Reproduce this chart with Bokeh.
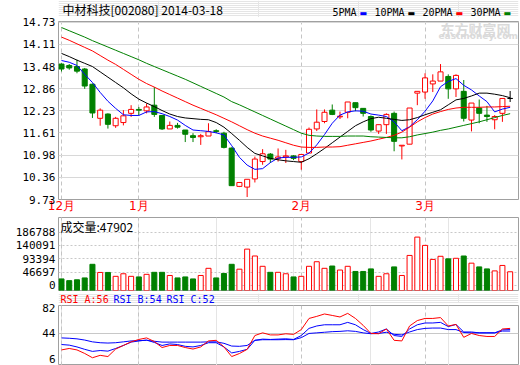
from bokeh.plotting import figure
from bokeh.layouts import column
from bokeh.models import (ColumnDataSource, FixedTicker, Label, Range1d, Grid,
                          PrintfTickFormatter)
from bokeh.embed import file_html
from bokeh.resources import INLINE

# ---------------- data ----------------
stock_title = "中材科技[002080] 2014-03-18"
month_ticks = [0, 10, 31, 47]
month_labels = ["12月", "1月", "2月", "3月"]
price_ticks = [9.73, 10.36, 10.98, 11.61, 12.23, 12.86, 13.48, 14.11, 14.73]
volume_ticks = [0, 46697, 93394, 140091, 186788]
rsi_ticks = [6, 44, 82]
ma_names = ["5PMA", "10PMA", "20PMA", "30PMA"]
rsi_header = ["RSI_A:56", "RSI_B:54", "RSI_C:52"]

opens = [13.55, 13.51, 13.48, 13.41, 12.98, 12.02, 12.14, 11.81, 11.90, 12.16,
         12.27, 12.23, 12.39, 12.10, 11.72, 11.82, 11.69, 11.53, 11.50, 11.52,
         11.67, 11.60, 11.18, 10.10, 10.08, 10.31, 10.80, 11.01, 10.89, 10.93,
         10.96, 10.80, 11.04, 11.72, 11.93, 12.25, 12.06, 12.19, 12.46, 12.30,
         12.07, 11.66, 11.84, 12.16, 11.24, 11.29, 12.73, 12.76, 12.99, 13.07,
         13.20, 12.85, 12.78, 11.97, 12.31, 12.11, 11.98, 12.16, 12.58]
highs = [13.57, 13.55, 13.67, 13.44, 13.00, 12.30, 12.16, 12.06, 12.25, 12.39,
         12.34, 12.44, 12.90, 12.10, 11.93, 11.89, 11.69, 11.60, 11.58, 11.88,
         11.71, 11.64, 11.20, 10.21, 10.30, 10.94, 11.15, 11.04, 11.17, 11.13,
         10.98, 11.00, 11.76, 12.27, 12.27, 12.41, 12.21, 12.48, 12.46, 12.30,
         12.10, 11.84, 12.16, 12.21, 11.26, 12.31, 12.78, 13.29, 13.26, 13.55,
         13.26, 13.26, 13.10, 12.45, 12.55, 12.37, 12.11, 12.58, 12.79]
lows = [13.34, 13.39, 13.29, 12.85, 12.03, 11.81, 11.73, 11.75, 11.82, 12.06,
        12.10, 12.16, 12.06, 11.69, 11.72, 11.73, 11.35, 11.35, 11.27, 11.52,
        11.60, 11.17, 10.12, 10.08, 9.80, 10.21, 10.71, 10.76, 10.80, 10.76,
        10.84, 10.57, 11.04, 11.66, 11.88, 12.11, 12.00, 12.02, 12.22, 12.07,
        11.64, 11.58, 11.58, 11.09, 10.86, 11.29, 12.39, 12.57, 12.76, 13.07,
        12.57, 12.62, 11.93, 11.65, 11.88, 11.92, 11.71, 11.92, 12.48]
closes = [13.41, 13.44, 13.35, 12.93, 12.17, 12.25, 11.85, 12.02, 12.09, 12.27,
          12.25, 12.34, 12.13, 11.72, 11.82, 11.77, 11.57, 11.48, 11.53, 11.64,
          11.65, 11.20, 10.12, 10.21, 10.30, 10.87, 11.02, 10.87, 10.93, 10.96,
          10.89, 11.00, 11.71, 11.91, 12.19, 12.13, 12.08, 12.48, 12.32, 12.16,
          11.69, 11.84, 12.13, 11.37, 11.26, 12.31, 12.78, 13.16, 13.07, 13.33,
          12.85, 13.23, 12.02, 12.45, 12.16, 12.07, 12.07, 12.58, 12.58]
volumes = [23000, 17000, 20000, 26500, 74000, 45600, 45600, 32000, 41000, 32000,
           30000, 39000, 46000, 46000, 35000, 26500, 30000, 23000, 35000, 60000,
           26500, 42000, 74000, 57000, 127000, 103000, 67000, 46000, 46000, 41000,
           30000, 32000, 67000, 83000, 60000, 68000, 54000, 67000, 49000, 49000,
           58000, 32000, 41000, 65000, 35000, 105000, 169000, 140000, 91000, 102000,
           93000, 95000, 103000, 78000, 65000, 58000, 51000, 70000, 47902]
ma5 = [13.65, 13.60, 13.51, 13.26, 13.03, 12.75, 12.50, 12.30, 12.12, 12.10,
       12.10, 12.20, 12.21, 12.15, 12.07, 11.97, 11.82, 11.69, 11.67, 11.65,
       11.61, 11.55, 11.25, 10.92, 10.70, 10.58, 10.60, 10.77, 10.90, 10.92,
       10.92, 10.93, 11.04, 11.27, 11.56, 11.88, 12.11, 12.20, 12.23, 12.22,
       12.14, 12.11, 12.07, 11.92, 11.67, 11.78, 11.98, 12.22, 12.51, 12.91,
       13.06, 13.14, 12.95, 12.82, 12.65, 12.49, 12.20, 12.28, 12.33]
ma10 = [13.85, 13.76, 13.66, 13.57, 13.48, 13.33, 13.18, 13.03, 12.88, 12.71,
        12.56, 12.45, 12.35, 12.24, 12.14, 12.07, 12.03, 12.01, 11.99, 11.98,
        11.90, 11.77, 11.59, 11.40, 11.20, 11.03, 10.96, 10.89, 10.85, 10.82,
        10.80, 10.78, 10.88, 11.02, 11.17, 11.33, 11.49, 11.65, 11.81, 11.92,
        12.01, 12.05, 12.02, 11.99, 11.96, 11.98, 12.04, 12.12, 12.19, 12.26,
        12.40, 12.54, 12.58, 12.65, 12.73, 12.73, 12.70, 12.66, 12.60]
ma20 = [14.31, 14.22, 14.12, 14.02, 13.92, 13.79, 13.66, 13.54, 13.40, 13.26,
        13.12, 13.00, 12.90, 12.79, 12.69, 12.59, 12.49, 12.39, 12.30, 12.21,
        12.12, 12.02, 11.92, 11.81, 11.70, 11.60, 11.52, 11.46, 11.40, 11.33,
        11.26, 11.21, 11.20, 11.20, 11.21, 11.21, 11.22, 11.26, 11.30, 11.34,
        11.38, 11.43, 11.48, 11.54, 11.63, 11.77, 11.92, 12.04, 12.14, 12.21,
        12.27, 12.31, 12.33, 12.33, 12.33, 12.34, 12.34, 12.35, 12.36]
ma30 = [14.58, 14.49, 14.40, 14.31, 14.21, 14.12, 14.03, 13.94, 13.85, 13.76,
        13.67, 13.57, 13.48, 13.39, 13.30, 13.21, 13.12, 13.02, 12.92, 12.82,
        12.72, 12.62, 12.49, 12.40, 12.30, 12.20, 12.10, 12.00, 11.90, 11.80,
        11.70, 11.60, 11.54, 11.52, 11.51, 11.51, 11.51, 11.52, 11.52, 11.52,
        11.50, 11.49, 11.48, 11.47, 11.47, 11.50, 11.55, 11.59, 11.63, 11.68,
        11.72, 11.77, 11.82, 11.87, 11.92, 11.98, 12.04, 12.10, 12.15]
rsi_a = [19.3, 21.5, 19.3, 14.0, 7.6, 11.2, 9.4, 20.6, 26.0, 31.4,
         35.0, 37.3, 31.9, 22.9, 26.0, 26.0, 22.9, 20.6, 23.8, 32.8,
         33.7, 23.8, 9.4, 13.9, 20.2, 40.9, 44.9, 41.8, 41.8, 43.5,
         42.6, 49.8, 66.5, 69.6, 73.2, 71.0, 68.7, 74.1, 66.5, 56.1,
         44.0, 43.6, 50.7, 33.7, 32.8, 55.2, 63.3, 66.5, 66.5, 67.8,
         55.2, 57.5, 38.2, 44.0, 40.9, 39.5, 39.5, 50.7, 51.6]
rsi_b = [27.4, 26.5, 23.8, 20.2, 17.1, 18.4, 17.5, 21.5, 26.0, 31.0,
         32.8, 34.1, 30.5, 26.0, 28.3, 27.4, 24.7, 23.8, 26.0, 30.1,
         30.1, 23.8, 14.8, 17.1, 20.2, 33.7, 35.5, 35.0, 35.5, 36.0,
         35.0, 40.9, 51.6, 55.2, 57.0, 57.0, 57.0, 60.6, 57.0, 49.8,
         44.0, 46.2, 50.7, 40.9, 39.5, 50.7, 57.0, 59.7, 59.7, 60.6,
         54.3, 57.5, 46.2, 46.2, 44.9, 44.9, 44.9, 49.4, 49.8]
rsi_c = [37.3, 36.8, 35.9, 34.1, 31.4, 30.1, 29.6, 30.1, 31.4, 32.8,
         33.2, 33.7, 32.3, 31.0, 31.0, 31.0, 31.0, 31.0, 31.0, 31.4,
         31.4, 29.2, 25.1, 24.7, 26.0, 33.7, 34.6, 34.6, 34.6, 34.8,
         34.6, 37.7, 44.0, 44.9, 45.8, 46.7, 47.1, 48.0, 47.1, 44.9,
         43.6, 44.0, 45.8, 42.7, 41.8, 46.2, 49.8, 51.6, 52.1, 52.1,
         49.8, 49.8, 45.4, 44.9, 44.9, 44.9, 44.9, 47.6, 47.6]

# ---------------- styling ----------------
RED, GREEN, BLUE, BLACK = "#ff0000", "#008000", "#0000ff", "#000000"
MA_COLORS = [BLUE, BLACK, RED, GREEN]
FRAME = "#a0a0a0"
MONO = "DejaVu Sans Mono"
CJK = "Noto Sans CJK SC"
W = 520
LEFT, RIGHT = 58, 2
FW = W - LEFT - RIGHT

n = len(closes)
idx = list(range(n))


def candle_color(o, c):
    if c > o:
        return RED
    if c < o:
        return GREEN
    return BLACK


src = ColumnDataSource(dict(
    x=idx, o=opens, h=highs, l=lows, c=closes,
    top=[max(o, c) for o, c in zip(opens, closes)],
    bot=[min(o, c) for o, c in zip(opens, closes)],
    lc=[candle_color(o, c) for o, c in zip(opens, closes)],
    fc=["white" if c > o else candle_color(o, c) for o, c in zip(opens, closes)],
    vol=volumes,
    vlc=[RED if c >= o else GREEN for o, c in zip(opens, closes)],
    vfc=["white" if c >= o else GREEN for o, c in zip(opens, closes)],
    ma5=ma5, ma10=ma10, ma20=ma20, ma30=ma30,
    ra=rsi_a, rb=rsi_b, rc=rsi_c,
))

x_range = Range1d(-0.388, 59.08)


def text_strip(h):
    """Thin figure holding header texts; its frame is aligned with the panels."""
    s = figure(width=W, height=h, x_range=Range1d(0, FW), y_range=Range1d(0, h),
               x_axis_location=None, y_axis_location=None,
               output_backend="svg", toolbar_location=None,
               min_border_left=LEFT, min_border_right=RIGHT,
               min_border_top=0, min_border_bottom=0)
    s.outline_line_color = None
    return s


def put(p, x, y, text, color=BLACK, font=MONO, size="10px", baseline="middle",
        x_units="data", y_units="data", style="normal", level="annotation"):
    p.add_layout(Label(x=x, y=y, x_units=x_units, y_units=y_units, text=text,
                       text_color=color, text_font=font, text_font_size=size,
                       text_align="left", text_baseline=baseline,
                       text_font_style=style, level=level))


def style_panel(p, ticks, fmt):
    p.outline_line_color = FRAME
    p.outline_line_width = 1
    ax = p.yaxis[0]
    ax.ticker = FixedTicker(ticks=ticks)
    ax.formatter = PrintfTickFormatter(format=fmt)
    ax.axis_line_color = None
    ax.major_tick_line_color = None
    ax.minor_tick_line_color = None
    ax.major_tick_out = 0
    ax.major_tick_in = 0
    ax.minor_tick_out = 0
    ax.major_label_standoff = 3
    ax.major_label_text_font = MONO
    ax.major_label_text_font_size = "11px"
    ax.major_label_text_color = BLACK


def panel(h, y_range, top, bottom, ticks, fmt):
    p = figure(width=W, height=h, x_range=x_range, y_range=y_range,
               x_axis_location=None, output_backend="svg", toolbar_location=None,
               min_border_left=LEFT, min_border_right=RIGHT,
               min_border_top=top, min_border_bottom=bottom)
    style_panel(p, ticks, fmt)
    p.add_layout(Grid(dimension=0, ticker=FixedTicker(ticks=month_ticks),
                      grid_line_color="#c4c4c4", grid_line_dash="4 3"))
    return p


# ---------------- header strip ----------------
H0 = 17
head = text_strip(H0)
put(head, 4, 8.5, stock_title, font=CJK, size="12px")
legend_x = [274, 316, 364, 412]
for name, color, lx in zip(ma_names, MA_COLORS, legend_x):
    put(head, lx, 5.5, name)
    put(head, lx + 6 * len(name) + 3, 4.5, "\u25ac", color=color,
        font="DejaVu Sans", size="8px")

# ---------------- price panel ----------------
p1 = figure(width=W, height=198, x_range=x_range,
            y_range=Range1d(price_ticks[0], 14.75),
            output_backend="svg", toolbar_location=None,
            min_border_left=LEFT, min_border_right=RIGHT,
            min_border_top=4, min_border_bottom=14)
style_panel(p1, price_ticks, "%.2f")
p1.ygrid.grid_line_color = "#d8d8d8"
xa = p1.xaxis[0]
xa.ticker = FixedTicker(ticks=month_ticks)
xa.major_label_overrides = {t: lab for t, lab in zip(month_ticks, month_labels)}
xa.axis_line_color = None
xa.major_tick_line_color = None
xa.minor_tick_line_color = None
xa.major_tick_out = 0
xa.major_tick_in = 0
xa.minor_tick_out = 0
xa.major_label_standoff = -1
xa.major_label_text_align = "left"
xa.major_label_text_color = RED
xa.major_label_text_font = "DejaVu Sans"
xa.major_label_text_font_size = "12px"
p1.xgrid.grid_line_color = "#c4c4c4"
p1.xgrid.grid_line_dash = "4 3"

put(p1, 382, 14.55, "东方财富网", color="#dadada", font=CJK, size="14px",
    style="bold", x_units="screen", level="underlay")
put(p1, 380, 14.33, "eastmoney.com", color="#dadada", font="DejaVu Sans",
    size="9px", style="bold", x_units="screen", level="underlay")

p1.segment(x0="x", y0="h", x1="x", y1="l", line_color="lc", line_width=1, source=src)
p1.vbar(x="x", width=0.65, top="top", bottom="bot", fill_color="fc",
        line_color="lc", line_width=1, source=src)
for col, color in zip(["ma5", "ma10", "ma20", "ma30"], MA_COLORS):
    p1.line("x", col, line_color=color, line_width=1, source=src)

# ---------------- volume panel ----------------
FH2 = 73
vol_range = Range1d(-17457, 237413)
p2 = panel(2 + FH2 + 2, vol_range, 2, 2, volume_ticks, "%d")
p2.ygrid.grid_line_color = "#c8c8c8"
p2.ygrid.grid_line_dash = "2 2"
# bars stand on the panel floor, as in the reference
p2.vbar(x="x", width=0.65, top="vol", bottom=vol_range.start, fill_color="vfc",
        line_color="vlc", line_width=1, source=src)
put(p2, 2, FH2 - 9, "成交量:%d" % volumes[-1], font=CJK, size="12px",
    x_units="screen", y_units="screen")

# ---------------- RSI header strip ----------------
H3 = 11
rsi_head = text_strip(H3)
for txt, color, lx in zip(rsi_header, [RED, BLUE, BLUE], [2, 55, 108]):
    put(rsi_head, lx, 5.5, txt, color=color)

# ---------------- RSI panel ----------------
p3 = panel(2 + 60, Range1d(-4.04, 85.9), 2, 0, rsi_ticks, "%d")
p3.ygrid.ticker = FixedTicker(ticks=[rsi_ticks[1]])
p3.ygrid.grid_line_color = "#c8c8c8"
p3.line("x", "rc", line_color=BLUE, line_width=1, source=src)
p3.line("x", "rb", line_color=BLUE, line_width=1, source=src)
p3.line("x", "ra", line_color=RED, line_width=1, source=src)

layout = column(head, p1, p2, rsi_head, p3, spacing=0)
open("out.html", "w").write(file_html(layout, INLINE, title="中材科技"))
